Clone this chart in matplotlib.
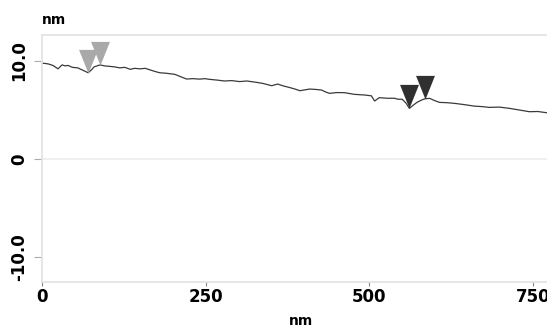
import matplotlib.pyplot as plt
from matplotlib.path import Path

# height profile along the scan line
pos_nm = [0, 5, 10, 17, 25, 31, 36, 40, 47, 55, 63, 71, 76, 80, 89, 96, 104,
          111, 119, 127, 135, 142, 150, 158, 165, 172, 180, 190, 203, 212,
          221, 231, 241, 249, 256, 268, 279, 290, 302, 313, 325, 337, 344,
          351, 360, 369, 378, 386, 394, 401, 409, 418, 427, 433, 439, 450,
          462, 477, 493, 503, 508, 515, 527, 538, 544, 550, 556, 561, 567,
          573, 579, 585, 592, 600, 607, 618, 630, 645, 660, 672, 683, 698,
          714, 729, 744, 757, 771]
height_nm = [9.77, 9.75, 9.7, 9.55, 9.2, 9.6, 9.5, 9.55, 9.35, 9.3, 9.05,
             8.8, 9.1, 9.4, 9.6, 9.5, 9.45, 9.4, 9.3, 9.35, 9.15, 9.25, 9.2,
             9.25, 9.1, 8.95, 8.8, 8.75, 8.64, 8.4, 8.16, 8.2, 8.15, 8.2,
             8.13, 8.05, 7.96, 8.0, 7.9, 7.96, 7.85, 7.72, 7.6, 7.48, 7.65,
             7.45, 7.3, 7.15, 6.97, 7.05, 7.14, 7.1, 7.04, 6.85, 6.7, 6.78,
             6.77, 6.6, 6.53, 6.45, 5.92, 6.26, 6.2, 6.2, 6.1, 6.1, 5.7, 5.17,
             5.5, 5.8, 6.0, 6.15, 6.19, 5.95, 5.78, 5.75, 5.68, 5.55, 5.4,
             5.35, 5.27, 5.3, 5.17, 5.0, 4.83, 4.85, 4.72]

# cursor pairs
gray_cursor_x = [71, 89]
gray_cursor_y = [8.8, 9.6]
dark_cursor_x = [561, 585]
dark_cursor_y = [5.17, 6.15]

xticks = [0, 250, 500, 750]
yticks = [-10, 0, 10]
ytick_labels = ["-10.0", "0", "10.0"]

# downward triangle with its tip on the point
tip_down = Path([(0, 0), (-0.4, 1), (0.4, 1), (0, 0)],
                [Path.MOVETO, Path.LINETO, Path.LINETO, Path.CLOSEPOLY])

fig = plt.figure(figsize=(5.47, 3.27), dpi=100)
ax = fig.add_axes([0.0762, 0.1385, 0.9238, 0.7545])

ax.axhline(0, color="#ececec", lw=1.2, zorder=0)
ax.plot(pos_nm, height_nm, color="#3a3a3a", lw=0.9)
ax.plot(gray_cursor_x, gray_cursor_y, linestyle="none", marker=tip_down,
        markersize=34, color="#a9a9a9", markeredgewidth=0)
ax.plot(dark_cursor_x, dark_cursor_y, linestyle="none", marker=tip_down,
        markersize=34, color="#303030", markeredgewidth=0)

ax.set_xlim(0, 771)
ax.set_ylim(-12.5, 12.65)

ax.set_xticks(xticks)
ax.set_xticklabels([str(t) for t in xticks], fontsize=12, fontweight="bold")
ax.set_yticks(yticks)
ax.set_yticklabels(ytick_labels, fontsize=12, fontweight="bold",
                   rotation=90, va="center")
ax.tick_params(axis="x", length=3, width=0.8, color="#888888", pad=1.5)
ax.tick_params(axis="y", length=6, width=0.8, color="#aaaaaa", pad=4)

for side in ["left", "bottom", "top"]:
    ax.spines[side].set_color("#e2e2e2")
    ax.spines[side].set_linewidth(1.2)
ax.spines["right"].set_visible(False)

fig.text(0.077, 0.94, "nm", fontsize=10, fontweight="bold", va="center")
fig.text(0.55, 0.018, "nm", fontsize=10, fontweight="bold", ha="center",
         va="center")

fig.savefig("out.png", dpi=100)
